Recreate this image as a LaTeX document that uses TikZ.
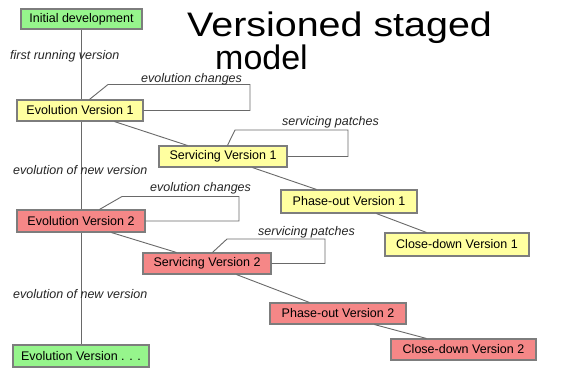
\documentclass[tikz,border=0pt]{standalone}
\usepackage{fontspec}
\setmainfont{Liberation Sans}
\usetikzlibrary{calc,backgrounds}
\definecolor{boxgreen}{RGB}{150,245,140}
\definecolor{boxyellow}{RGB}{255,255,160}
\definecolor{boxred}{RGB}{245,135,135}
\definecolor{edgegray}{RGB}{125,125,125}
\definecolor{linegray}{RGB}{105,105,105}
\tikzset{
  stage/.style={draw=edgegray, line width=1.1pt, inner sep=0pt,
    font=\fontsize{12.5}{14}\selectfont, text=black},
  greenstage/.style={stage, fill=boxgreen},
  yellowstage/.style={stage, fill=boxyellow},
  redstage/.style={stage, fill=boxred},
  note/.style={anchor=west, inner sep=0pt,
    font=\fontsize{12.5}{14}\selectfont\itshape, text=black!85},
  link/.style={draw=linegray, line width=0.9pt},
}
\begin{document}
\begin{tikzpicture}[x=1pt,y=-1pt]
\useasboundingbox (0,0) rectangle (574,368);

% title
\node[anchor=base west, inner sep=0pt] (title1) at (187,36)
  {\fontsize{34}{40}\selectfont\scalebox{1.16}[1]{Versioned staged}};
\node[anchor=base west, inner sep=0pt] (title2) at (215,69)
  {\fontsize{34}{40}\selectfont model};

% stages
\node[greenstage, minimum width=121pt, minimum height=20pt] (init) at (81.5,19) {Initial development};
\node[yellowstage, minimum width=126pt, minimum height=21pt] (ev1) at (80,110.5) {Evolution Version 1};
\node[yellowstage, minimum width=128pt, minimum height=21pt] (sv1) at (223,156.5) {Servicing Version 1};
\node[yellowstage, minimum width=136pt, minimum height=23pt] (po1) at (349,201.5) {Phase-out Version 1};
\node[yellowstage, minimum width=144pt, minimum height=23pt] (cd1) at (457,244.5) {Close-down Version 1};
\node[redstage, minimum width=128pt, minimum height=22pt] (ev2) at (81,221) {Evolution Version 2};
\node[redstage, minimum width=128pt, minimum height=21pt] (sv2) at (207,263.5) {Servicing Version 2};
\node[redstage, minimum width=136pt, minimum height=21pt] (po2) at (338,313.5) {Phase-out Version 2};
\node[redstage, minimum width=145pt, minimum height=21pt] (cd2) at (463.5,349.5) {Close-down Version 2};
\node[greenstage, minimum width=136pt, minimum height=22pt] (evd) at (81,356) {Evolution Version . . .};

% white page and the main evolution line behind the stages
\begin{pgfonlayer}{background}
  \fill[white] (0,0) rectangle (574,368);
  \draw[link] (init.south) -- (init.south |- evd.north);
\end{pgfonlayer}

% labels along the evolution line
\node[note] (lab1) at (10,56) {first running version};
\node[note] (lab2) at (13,170) {evolution of new version};
\node[note] (lab3) at (13,294) {evolution of new version};

% stage transitions
\draw[link] ($(ev1.south west)+(98,0)$) -- ($(sv1.north west)+(29,0)$);
\draw[link] ($(sv1.south west)+(94,0)$) -- ($(po1.north west)+(36,0)$);
\draw[link] ($(po1.south west)+(96,0)$) -- ($(cd1.north west)+(42,0)$);
\draw[link] ($(ev2.south west)+(95,0)$) -- ($(sv2.north west)+(34,0)$);
\draw[link] ($(sv2.south west)+(94,0)$) -- ($(po2.north west)+(40,0)$);
\draw[link] ($(po2.south west)+(105,0)$) -- ($(cd2.north west)+(36,0)$);

% change loops
\coordinate (c1a) at (108,84.5);  \coordinate (c1b) at (250,84.5);
\draw[link] ($(ev1.north west)+(73,0)$) -- (c1a) -- (c1b) -- (c1b |- ev1.east) -- (ev1.east);
\node[note] (lab4) at (141,79) {evolution changes};

\coordinate (c2a) at (235,130); \coordinate (c2b) at (348,130);
\draw[link] ($(sv1.north west)+(69,0)$) -- (c2a) -- (c2b) -- (c2b |- sv1.east) -- (sv1.east);
\node[note] (lab5) at (282,122) {servicing patches};

\coordinate (c3a) at (122,196.5); \coordinate (c3b) at (239,196.5);
\draw[link] ($(ev2.north west)+(83,0)$) -- (c3a) -- (c3b) -- (c3b |- ev2.east) -- (ev2.east);
\node[note] (lab6) at (150,188) {evolution changes};

\coordinate (c4a) at (227,239); \coordinate (c4b) at (325,239);
\draw[link] ($(sv2.north west)+(70,0)$) -- (c4a) -- (c4b) -- (c4b |- sv2.east) -- (sv2.east);
\node[note] (lab7) at (258,232) {servicing patches};
\end{tikzpicture}
\end{document}
